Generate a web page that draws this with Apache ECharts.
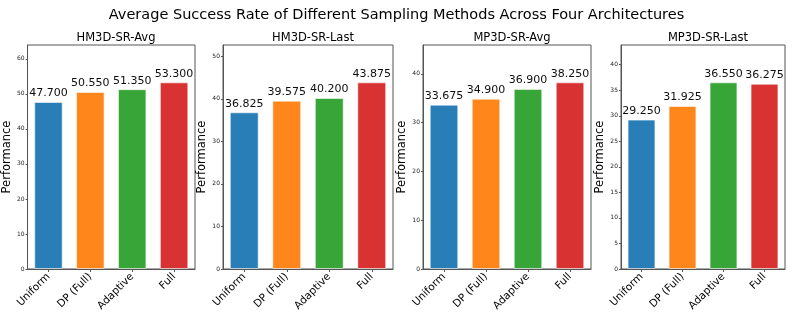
<!DOCTYPE html>
<html><head><meta charset="utf-8">
<script src="https://cdn.jsdelivr.net/npm/echarts@6/dist/echarts.min.js"></script>
<style>html,body{margin:0;padding:0;background:#fff}#c{width:793px;height:315px}</style>
</head><body><div id="c"></div>
<script>
const categories = ['Uniform', 'DP (Full)', 'Adaptive', 'Full'];
const panelTitles = ['HM3D-SR-Avg', 'HM3D-SR-Last', 'MP3D-SR-Avg', 'MP3D-SR-Last'];
const hm3dAvg = [47.700, 50.550, 51.350, 53.300];
const hm3dLast = [36.825, 39.575, 40.200, 43.875];
const mp3dAvg = [33.675, 34.900, 36.900, 38.250];
const mp3dLast = [29.250, 31.925, 36.550, 36.275];
const yIntervals = [10, 10, 10, 5];
const colors = ['#1f77b4', '#ff7f0e', '#2ca02c', '#d62728'];
const mainTitle = 'Average Success Rate of Different Sampling Methods Across Four Architectures';

const panels = [hm3dAvg, hm3dLast, mp3dAvg, mp3dLast];
const gridBoxes = [[27, 195], [223, 393], [423, 591], [621, 785]];
const font = 'DejaVu Sans';

const chart = echarts.init(document.getElementById('c'));
const option = {
  animation: false,
  title: [{ text: mainTitle, left: 'center', top: 3, textStyle: { fontFamily: font, fontSize: 14.5, fontWeight: 'normal', color: '#000' } }]
    .concat(panelTitles.map((t, i) => ({
      text: t, left: (gridBoxes[i][0] + gridBoxes[i][1]) / 2, top: 27, textAlign: 'center',
      textStyle: { fontFamily: font, fontSize: 11.5, fontWeight: 'normal', color: '#000' }
    }))),
  grid: gridBoxes.map(b => ({ left: b[0], right: 793 - b[1], top: 45, bottom: 46, show: true, borderColor: '#555', borderWidth: 1, backgroundColor: 'transparent' })),
  xAxis: panels.map((p, i) => ({
    type: 'category', gridIndex: i, data: categories,
    axisLine: { show: true, lineStyle: { color: '#555', width: 1 } },
    axisTick: { show: true, alignWithLabel: true, length: 3, lineStyle: { color: '#555' } },
    axisLabel: { rotate: 45, fontFamily: font, fontSize: 10.5, color: '#000', margin: 6, interval: 0 }
  })),
  yAxis: panels.map((p, i) => ({
    type: 'value', gridIndex: i, min: 0, max: Math.max(...p) * 1.2, interval: yIntervals[i],
    name: 'Performance', nameLocation: 'middle', nameGap: 12,
    nameTextStyle: { fontFamily: font, fontSize: 11.5, color: '#000' },
    splitLine: { show: false },
    axisLine: { show: true, lineStyle: { color: '#555', width: 1 } },
    axisTick: { show: true, length: 2, lineStyle: { color: '#555' } },
    axisLabel: { showMaxLabel: false, fontFamily: font, fontSize: 6, color: '#222', margin: 3,
      formatter: v => (v % yIntervals[i] === 0 ? String(v) : '') }
  })),
  series: panels.map((p, i) => ({
    type: 'bar', xAxisIndex: i, yAxisIndex: i, barWidth: '68%',
    data: p.map((v, j) => ({ value: v, itemStyle: { color: colors[j], opacity: 0.95 } })),
    itemStyle: { borderColor: 'rgba(255,255,255,0.6)', borderWidth: 1 },
    label: { show: true, position: 'top', distance: 3, formatter: d => d.value.toFixed(3), fontFamily: font, fontSize: 11, color: '#000' }
  }))
};
chart.setOption(option);
</script></body></html>
